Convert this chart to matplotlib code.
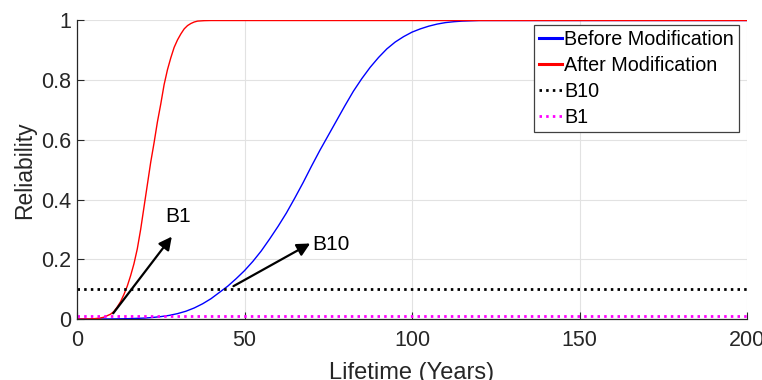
import numpy as np
import matplotlib.pyplot as plt

plt.rcParams['font.family'] = ['Liberation Sans', 'DejaVu Sans']

# Reliability curves (lifetime in years, reliability value)
before_years = [0, 10, 15, 20, 22.5, 25, 27.5, 30, 32.5, 35, 37.5, 40, 42.5, 45,
                47.5, 50, 52.5, 55, 57.5, 60, 62.5, 65, 67.5, 70, 72.5, 75, 77.5,
                80, 82.5, 85, 87.5, 90, 92.5, 95, 97.5, 100, 102.5, 105, 107.5,
                110, 112.5, 115, 117.5, 120, 200]
before_rel = [0, 0.0003, 0.001, 0.003, 0.005, 0.008, 0.012, 0.018, 0.026, 0.037,
              0.051, 0.068, 0.089, 0.11, 0.135, 0.162, 0.193, 0.228, 0.268, 0.31,
              0.355, 0.405, 0.457, 0.512, 0.565, 0.615, 0.665, 0.715, 0.763, 0.805,
              0.843, 0.876, 0.905, 0.928, 0.946, 0.961, 0.972, 0.981, 0.988, 0.993,
              0.996, 0.998, 0.999, 1.0, 1.0]

after_years = [0, 2, 4, 5, 6, 7, 8, 9, 10, 11, 12, 13, 14, 15, 16, 17, 18, 19, 20,
               21, 22, 23, 24, 25, 26, 27, 28, 29, 30, 31, 32, 33, 34, 35, 36, 38,
               40, 200]
after_rel = [0, 0, 0.0005, 0.001, 0.002, 0.0035, 0.006, 0.011, 0.016, 0.025, 0.04,
             0.058, 0.082, 0.11, 0.145, 0.185, 0.235, 0.3, 0.375, 0.45, 0.525, 0.59,
             0.66, 0.72, 0.785, 0.835, 0.875, 0.91, 0.935, 0.955, 0.972, 0.983,
             0.99, 0.995, 0.998, 0.9995, 1.0, 1.0]

# B-life reference levels
b10_level = 0.10
b1_level = 0.01
x_range = [0, 200]

# Annotation arrows: (start, tip) and label position
b1_arrow = [(10.8, 0.019), (28.3, 0.276)]
b1_text = (26.4, 0.325)
b10_arrow = [(46.7, 0.11), (69.6, 0.253)]
b10_text = (70.3, 0.232)

x_ticks = [0, 50, 100, 150, 200]
y_ticks = [0, 0.2, 0.4, 0.6, 0.8, 1]
y_tick_labels = ['0', '0.2', '0.4', '0.6', '0.8', '1']

fig = plt.figure(figsize=(7.62, 3.80), dpi=100)
ax = fig.add_axes([77 / 762, 1 - 319 / 380, 670 / 762, 298.5 / 380])

ax.plot(before_years, before_rel, color='#0000ff', lw=1.0, label='Before Modification')
ax.plot(after_years, after_rel, color='#ff0000', lw=1.0, label='After Modification')
ax.plot(x_range, [b10_level] * 2, color='black', lw=2.0, ls=(0, (0.9, 1.5)), label='B10')
ax.plot(x_range, [b1_level] * 2, color='#ff00ff', lw=2.0, ls=(0, (0.9, 1.5)), label='B1')

arrow_props = dict(arrowstyle='-|>,head_length=0.55,head_width=0.28', color='black',
                   lw=1.6, mutation_scale=14, shrinkA=0, shrinkB=0)
ax.annotate('', xy=b1_arrow[1], xytext=b1_arrow[0], arrowprops=arrow_props)
ax.annotate('', xy=b10_arrow[1], xytext=b10_arrow[0], arrowprops=arrow_props)
ax.text(*b1_text, 'B1', fontsize=15, color='black', va='baseline', ha='left')
ax.text(*b10_text, 'B10', fontsize=15, color='black', va='baseline', ha='left')

ax.set_xlim(0, 200)
ax.set_ylim(0, 1)
ax.set_xticks(x_ticks)
ax.set_yticks(y_ticks)
ax.set_yticklabels(y_tick_labels)
ax.tick_params(direction='in', length=5, width=0.8, colors='#262626', labelsize=15.5)
ax.tick_params(axis='x', pad=8)
ax.tick_params(axis='y', pad=4)
ax.grid(True, color='#e2e2e2', lw=0.8)
ax.set_axisbelow(True)

for side in ['top', 'right']:
    ax.spines[side].set_visible(False)
for side in ['left', 'bottom']:
    ax.spines[side].set_color('#262626')
    ax.spines[side].set_linewidth(0.9)

ax.set_xlabel('Lifetime (Years)', fontsize=17, color='#262626', labelpad=8)
ax.set_ylabel('Reliability', fontsize=16.5, color='#262626', labelpad=4)

leg = ax.legend(loc='upper right', bbox_to_anchor=(739 / 762, 1 - 25 / 380),
                bbox_transform=fig.transFigure, borderaxespad=0, fontsize=14.2,
                frameon=True, fancybox=False, framealpha=1, edgecolor='#404040',
                handlelength=1.2, handletextpad=0.1, labelspacing=0.35,
                borderpad=0.25)
leg.get_frame().set_linewidth(0.9)
for line in leg.get_lines():
    if line.get_linestyle() == '-':
        line.set_linewidth(2.2)

fig.savefig('out.png', dpi=100)
